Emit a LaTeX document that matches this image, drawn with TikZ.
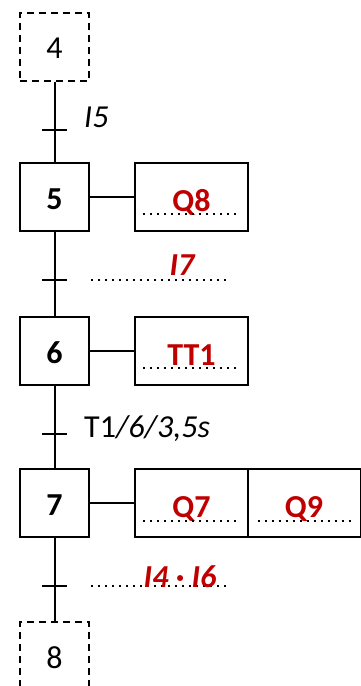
\documentclass[tikz,border=0pt]{standalone}
\usepackage{fontspec}
\setmainfont{Carlito}
\definecolor{grafred}{RGB}{192,0,0}
\begin{document}
\begin{tikzpicture}[x=1pt,y=-1pt,
  every node/.style={font=\fontsize{32}{38}\selectfont, inner sep=0pt},
  line/.style={line width=2pt},
  stepbox/.style={draw, line width=2pt, minimum width=69pt, minimum height=68pt, text height=24pt, text depth=0pt},
  initbox/.style={stepbox, dash pattern=on 7pt off 5pt},
  actbox/.style={draw, line width=2pt, minimum width=113pt, minimum height=68pt, text height=28pt, text depth=0pt, text=grafred, font=\fontsize{32}{38}\selectfont\bfseries},
  dotline/.style={line width=2.2pt, dash pattern=on 2.2pt off 4.8pt},
  tick/.style={line width=2pt},
  redlab/.style={text=grafred, font=\fontsize{32}{38}\selectfont\bfseries\itshape, anchor=base}
]
\useasboundingbox (0,0) rectangle (361,686);

% steps
\node[initbox] (s4) at (54.5,46.5) {4};
\node[stepbox, font=\fontsize{32}{38}\selectfont\bfseries] (s5) at (54.5,197) {5};
\node[stepbox, font=\fontsize{32}{38}\selectfont\bfseries] (s6) at (54.5,351) {6};
\node[stepbox, font=\fontsize{32}{38}\selectfont\bfseries] (s7) at (54.5,503) {7};
\node[initbox] (s8) at (54.5,656) {8};

% actions
\node[actbox] (a5) at (191.5,197) {Q8\hspace{8pt}};
\node[actbox] (a6) at (191.5,351) {TT1\hspace{11pt}};
\node[actbox] (a7) at (191.5,503) {Q7\hspace{11pt}};
\node[actbox] (a7b) at (304,503) {Q9\hspace{16pt}};

% links
\draw[line] (s4.south) -- (s5.north);
\draw[line] (s5.south) -- (s6.north);
\draw[line] (s6.south) -- (s7.north);
\draw[line] (s7.south) -- (s8.north);
\draw[line] (s5.east) -- (a5.west);
\draw[line] (s6.east) -- (a6.west);
\draw[line] (s7.east) -- (a7.west);

% transitions
\coordinate (t5) at (54.5,130);
\coordinate (t6) at (54.5,280);
\coordinate (t7) at (54.5,434);
\coordinate (t8) at (54.5,586);
\foreach \t in {t5,t6,t7,t8}
  \draw[tick] ([xshift=-12.5pt]\t) -- ([xshift=12.5pt]\t);

% dotted lines
\draw[dotline] ([xshift=36.5pt]t6) -- ([xshift=174pt]t6);
\draw[dotline] ([xshift=36.5pt]t8) -- ([xshift=174pt]t8);
\draw[dotline] ([xshift=9pt,yshift=18pt]a5.south west) -- ([xshift=-12pt,yshift=18pt]a5.south east);
\draw[dotline] ([xshift=9pt,yshift=18pt]a6.south west) -- ([xshift=-12pt,yshift=18pt]a6.south east);
\draw[dotline] ([xshift=9pt,yshift=17pt]a7.south west) -- ([xshift=-12pt,yshift=17pt]a7.south east);
\draw[dotline] ([xshift=11pt,yshift=17pt]a7b.south west) -- ([xshift=-10pt,yshift=17pt]a7b.south east);

% transition labels
\node[anchor=base west, font=\fontsize{32}{38}\selectfont\itshape] (l5) at (84,127) {I5};
\node[redlab] (l6) at (182,275) {I7};
\node[anchor=base west] (l7) at (84,437) {T1\textit{/6/3,5s}};
\node[redlab] (l8) at (180,587) {I4 · I6};
\end{tikzpicture}
\end{document}
